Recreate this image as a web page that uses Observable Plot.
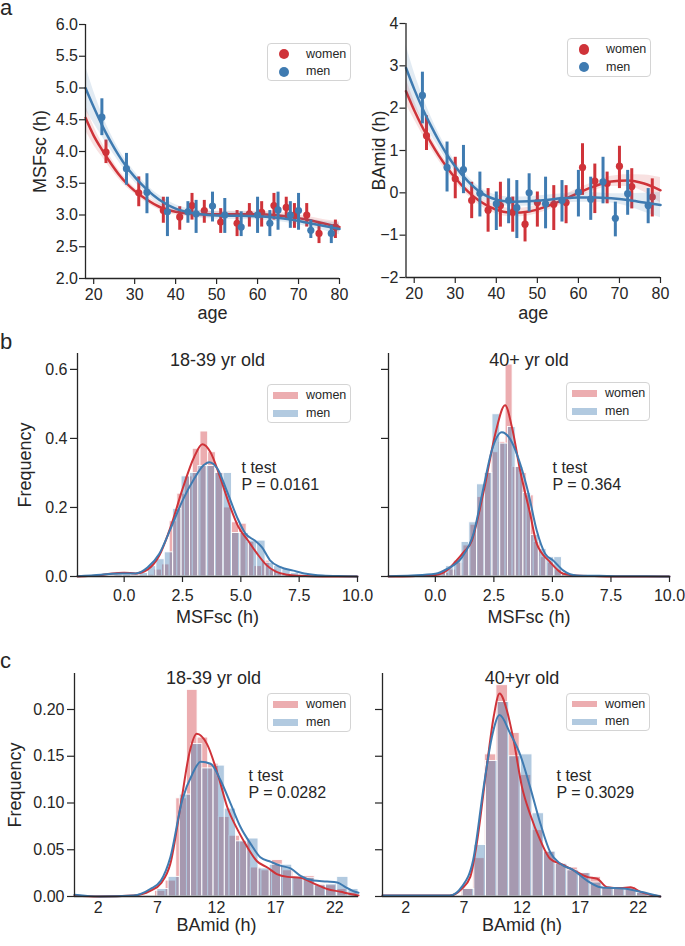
<!DOCTYPE html>
<html><head><meta charset="utf-8">
<script src="https://cdn.jsdelivr.net/npm/d3@7"></script>
<script src="https://cdn.jsdelivr.net/npm/@observablehq/plot@0.6"></script>
<style>
body{margin:0;background:#fff;}
#fig{position:relative;width:685px;height:946px;font-family:"Liberation Sans",Arial,Helvetica,sans-serif;color:#262626;overflow:hidden;background:#fff;}
.pan{position:absolute;}
.letter{position:absolute;left:0;font-size:22px;line-height:0.75;}
.leg{position:absolute;width:84px;height:38.5px;border:1px solid #d4d4d4;border-radius:4px;background:rgba(255,255,255,0.85);box-sizing:border-box;}
.leg .mk{position:absolute;}
.leg .lt{position:absolute;left:38px;font-size:12.5px;line-height:14px;height:14px;}
</style>
</head><body>
<div id="fig"></div>
<script>
// ---------- colours ----------
const RED = "#cf3339", BLUE = "#3f7bb1", INK = "#262626";
const FONT = '"Liberation Sans", Arial, Helvetica, sans-serif';

// ---------- panel a: fitted curves ----------
const fitAges = [18,20,22,24,26,28,30,33,36,40,44,48,52,56,60,64,68,72,76,80];
const msfFitWomen = [4.53,4.25,4.03,3.83,3.65,3.5,3.38,3.24,3.13,3.05,3.02,3.01,3.01,3.01,3.01,3.0,2.97,2.93,2.87,2.81];
const msfCiWomen  = [0.2,0.15,0.11,0.09,0.07,0.06,0.05,0.05,0.05,0.05,0.05,0.05,0.05,0.05,0.05,0.05,0.05,0.05,0.06,0.08];
const msfFitMen   = [5.0,4.7,4.42,4.17,3.95,3.76,3.6,3.4,3.24,3.1,3.03,3.0,2.99,2.99,2.98,2.96,2.93,2.88,2.83,2.78];
const msfCiMen    = [0.35,0.25,0.18,0.13,0.1,0.09,0.08,0.07,0.07,0.06,0.06,0.06,0.06,0.06,0.06,0.06,0.06,0.06,0.07,0.09];
const bamFitWomen = [2.4,1.95,1.55,1.2,0.88,0.6,0.35,0.04,-0.2,-0.4,-0.47,-0.44,-0.33,-0.18,0.0,0.16,0.27,0.29,0.22,0.06];
const bamCiWomen  = [0.3,0.22,0.17,0.14,0.12,0.11,0.1,0.1,0.1,0.1,0.1,0.1,0.1,0.1,0.1,0.1,0.12,0.14,0.2,0.3];
const bamFitMen   = [2.95,2.45,2.0,1.6,1.23,0.9,0.62,0.28,0.02,-0.16,-0.21,-0.2,-0.17,-0.13,-0.11,-0.11,-0.13,-0.17,-0.23,-0.29];
const bamCiMen    = [0.55,0.4,0.3,0.22,0.17,0.14,0.12,0.11,0.11,0.11,0.11,0.11,0.11,0.11,0.11,0.11,0.11,0.15,0.22,0.3];

// ---------- panel a: binned means with CI ----------
const msfAgeWomen  = [23,31,37,41,44,47,51,55,58,61,64,67,69,72,75,79];
const msfMeanWomen = [3.99,3.35,3.07,2.97,3.15,3.07,2.89,2.87,3.02,3.04,3.15,3.12,3.0,3.0,2.71,2.81];
const msfLoWomen   = [3.81,3.13,2.87,2.76,2.92,2.87,2.71,2.66,2.81,2.81,2.92,2.92,2.79,2.81,2.55,2.63];
const msfHiWomen   = [4.18,3.6,3.28,3.13,3.34,3.23,3.1,3.07,3.18,3.21,3.34,3.28,3.18,3.18,2.87,2.92];
const msfAgeMen    = [22,28,33,38,43,45,49,52,56,60,63,65,68,70,73,78];
const msfMeanMen   = [4.54,3.73,3.36,3.05,3.05,3.02,3.14,3.0,2.81,3.0,2.87,3.08,3.0,3.07,2.76,2.71];
const msfLoMen     = [4.25,3.47,3.02,2.66,2.87,2.71,2.89,2.71,2.66,2.71,2.66,2.76,2.79,2.76,2.63,2.55];
const msfHiMen     = [4.83,3.97,3.65,3.28,3.21,3.23,3.36,3.26,3.05,3.28,3.07,3.36,3.21,3.34,2.92,2.84];

const bamAgeWomen  = [23,30,34,38,41,44,47,50,54,57,61,64,67,70,73,78];
const bamMeanWomen = [1.35,0.33,-0.18,-0.41,-0.3,-0.46,-0.74,-0.23,-0.27,-0.23,0.6,0.28,0.22,0.63,0.15,-0.1];
const bamLoWomen   = [1.0,-0.14,-0.61,-0.93,-0.81,-0.93,-1.16,-0.81,-0.89,-0.73,-0.06,-0.49,-0.26,0.1,-0.38,-0.57];
const bamHiWomen   = [1.82,0.84,0.25,0.1,0.25,-0.1,-0.49,0.02,0.17,0.17,1.16,0.68,0.49,1.1,0.57,0.33];
const bamAgeMen    = [22,28,32,36,40,43,45,48,52,56,60,63,66,69,72,77];
const bamMeanMen   = [2.3,0.6,0.55,-0.01,-0.26,-0.18,-0.35,0.0,-0.26,-0.18,0.02,-0.15,0.26,-0.6,-0.02,-0.3];
const bamLoMen     = [1.63,0.02,-0.02,-0.57,-0.89,-0.73,-1.08,-0.45,-0.85,-0.69,-0.57,-0.65,-0.26,-1.04,-0.53,-0.73];
const bamHiMen     = [2.85,1.2,1.12,0.49,0.02,0.33,0.29,0.45,0.37,0.29,0.53,0.37,0.84,-0.22,0.53,0.1];

// ---------- panel b: MSFsc histograms (bin edges + normalised heights) and KDE ----------
const bYoungEdgesWomen = [-0.36,-0.03,0.30,0.63,0.96,1.29,1.62,1.95,2.28,2.61,2.94,3.27,3.60,3.93,4.26,4.59,4.92,5.25,5.58,5.91,6.24,6.57,6.90,7.23];
const bYoungHistWomen  = [0.012,0.01,0.01,0,0.005,0.02,0.035,0.16,0.24,0.29,0.37,0.42,0.36,0.3,0.2,0.157,0.153,0.10,0.03,0.046,0.02,0.01,0.005];
const bYoungEdgesMen   = [-0.42,-0.06,0.30,0.66,1.02,1.38,1.74,2.10,2.46,2.82,3.18,3.54,3.90,4.26,4.62,4.98,5.34,5.70,6.06,6.42,6.78,7.14,7.50,7.86];
const bYoungHistMen    = [0.005,0.005,0.003,0.01,0.03,0.05,0.07,0.196,0.29,0.3,0.32,0.32,0.30,0.3,0.126,0.126,0.104,0.104,0.04,0.03,0.022,0.01,0.005];
const bYoungKdeXWomen  = [-2,-1,-0.5,0,0.5,1.0,1.5,2.0,2.5,3.0,3.35,3.7,4.1,4.5,4.9,5.3,5.7,6.1,6.5,7.0,7.5,8.5,10];
const bYoungKdeYWomen  = [0.0,0.004,0.009,0.011,0.009,0.02,0.06,0.145,0.253,0.346,0.383,0.36,0.29,0.21,0.143,0.105,0.066,0.033,0.014,0.005,0.002,0.0,0.0];
const bYoungKdeXMen    = [-2,-1,-0.5,0,0.5,1.0,1.5,2.0,2.5,3.0,3.4,3.65,4.0,4.4,4.85,5.2,5.6,5.9,6.25,6.7,7.25,7.8,8.5,9.5,10];
const bYoungKdeYMen    = [0.001,0.005,0.008,0.009,0.009,0.026,0.065,0.14,0.22,0.283,0.322,0.331,0.312,0.248,0.17,0.124,0.104,0.085,0.047,0.027,0.017,0.008,0.003,0.001,0.0];

const bOldEdgesWomen = [0.0,0.3,0.6,0.9,1.2,1.5,1.8,2.1,2.4,2.7,3.0,3.3,3.6,3.9,4.2,4.5,4.8,5.1,5.4,5.7,6.0];
const bOldHistWomen  = [0.003,0.01,0.02,0.04,0.09,0.15,0.23,0.30,0.36,0.39,0.614,0.317,0.30,0.235,0.10,0.056,0.04,0.02,0.008,0.004];
const bOldEdgesMen   = [-0.2,0.13,0.46,0.79,1.12,1.45,1.78,2.11,2.44,2.77,3.10,3.43,3.76,4.09,4.42,4.75,5.08,5.41,5.74,6.07];
const bOldHistMen    = [0.005,0.01,0.03,0.046,0.1,0.157,0.267,0.30,0.47,0.385,0.433,0.317,0.242,0.12,0.08,0.056,0.056,0.008,0.004];
const bOldKdeXWomen  = [-2,-1,0,0.5,0.85,1.2,1.56,1.85,2.13,2.56,2.98,3.27,3.62,4.05,4.33,4.9,5.47,6.0,7,8,10];
const bOldKdeYWomen  = [0,0.001,0.004,0.018,0.042,0.07,0.104,0.18,0.268,0.413,0.496,0.433,0.307,0.181,0.095,0.042,0.008,0.003,0.001,0,0];
const bOldKdeXMen    = [-2,-1,0,0.5,1.14,1.63,2.06,2.41,2.84,3.27,3.62,3.98,4.33,4.69,5.04,5.47,6.04,7,8,9,10];
const bOldKdeYMen    = [0.001,0.003,0.008,0.022,0.056,0.124,0.259,0.365,0.418,0.389,0.327,0.24,0.133,0.066,0.046,0.017,0.003,0.002,0.001,0.001,0];

// ---------- panel c: BAmid histograms and KDE ----------
const cYoungEdgesWomen = [6.8,7.7,8.6,9.5,10.4,11.3,12.2,13.1,14.0,14.9,15.8,16.7,17.6,18.5,19.4,20.3,21.2,22.1,23.0,23.9];
const cYoungHistWomen  = [0.006,0.017,0.105,0.221,0.17,0.142,0.085,0.065,0.059,0.031,0.028,0.039,0.028,0.02,0.022,0.013,0.012,0.008,0.004];
const cYoungEdgesMen   = [7.0,7.95,8.9,9.85,10.8,11.75,12.7,13.65,14.6,15.55,16.5,17.45,18.4,19.35,20.3,21.25,22.2,23.15,24.0];
const cYoungHistMen    = [0.008,0.021,0.109,0.163,0.137,0.14,0.094,0.059,0.062,0.03,0.034,0.034,0.02,0.02,0.012,0.013,0.021,0.008];
const cYoungKdeXWomen  = [0,2,5,6.4,7.3,8.1,9.0,9.7,10.33,11.2,12.1,12.9,13.8,14.6,15.4,16.3,17.1,18.0,19.1,20.2,21.35,22.5,23.2,24];
const cYoungKdeYWomen  = [0.001,0.0,0.001,0.006,0.014,0.035,0.1,0.153,0.174,0.163,0.131,0.096,0.071,0.053,0.038,0.031,0.024,0.021,0.02,0.014,0.008,0.005,0.003,0.001];
const cYoungKdeXMen    = [0,2.2,5,6.4,7.3,8.1,9.1,9.96,10.66,11.5,12.35,13.2,14.04,14.9,15.7,16.6,17.4,18.26,19.1,20.2,21.35,22.2,22.9,23.5,24];
const cYoungKdeYMen    = [0.002,0.0,0.001,0.008,0.017,0.042,0.103,0.131,0.144,0.142,0.124,0.099,0.074,0.056,0.042,0.037,0.033,0.03,0.022,0.017,0.016,0.015,0.01,0.006,0.004];

const cOldEdgesWomen = [6.8,7.8,8.8,9.8,10.8,11.8,12.8,13.8,14.8,15.8,16.8,17.8,18.8,19.8,20.8,21.8,22.8,23.8];
const cOldHistWomen  = [0.009,0.041,0.152,0.226,0.175,0.13,0.071,0.048,0.035,0.031,0.025,0.021,0.009,0.008,0.01,0.005,0.002];
const cOldEdgesMen   = [6.9,7.9,8.9,9.9,10.9,11.9,12.9,13.9,14.9,15.9,16.9,17.9,18.9,19.9,20.9,21.9,22.9,23.9];
const cOldHistMen    = [0.008,0.055,0.145,0.208,0.15,0.152,0.089,0.048,0.035,0.028,0.025,0.015,0.009,0.008,0.007,0.004,0.002];
const cOldKdeXWomen  = [0,5.8,6.8,7.55,8.1,9.0,9.56,10.07,10.7,11.28,12.0,12.7,13.58,14.44,15.3,16.45,17.6,18.47,19.33,20.5,21.34,22.2,23.9];
const cOldKdeYWomen  = [0.001,0.001,0.008,0.021,0.056,0.142,0.192,0.217,0.199,0.167,0.117,0.088,0.06,0.04,0.035,0.028,0.021,0.019,0.01,0.009,0.01,0.005,0.0];
const cOldKdeXMen    = [0,5.8,6.8,7.8,8.7,9.4,10.07,11.0,11.86,12.7,13.58,14.44,15.3,16.45,17.6,18.75,19.9,21.05,22.2,23.9];
const cOldKdeYMen    = [0.001,0.001,0.01,0.039,0.117,0.17,0.194,0.174,0.151,0.117,0.078,0.047,0.035,0.028,0.017,0.01,0.009,0.008,0.005,0.0];

// ---------- texts / ticks ----------
const groupTitles = ["18-39 yr old", "40+ yr old", "40+yr old"];
const pValuesB = ["P = 0.0161", "P = 0.364"];
const pValuesC = ["P = 0.0282", "P = 0.3029"];
const legendLabels = ["women", "men"];
const ageTicks = [20,30,40,50,60,70,80];
const msfTicksA = [2.0,2.5,3.0,3.5,4.0,4.5,5.0,5.5,6.0];
const bamTicksA = [-2,-1,0,1,2,3,4];
const msfTicksB = [0.0,2.5,5.0,7.5,10.0];
const freqTicksB = [0.0,0.2,0.4,0.6];
const bamTicksC = [2,7,12,17,22];
const freqTicksC = [0.00,0.05,0.10,0.15,0.20];

// ---------- helpers ----------
const fig = document.getElementById("fig");
const zipFit = (ages, fit, ci) => ages.map((a, i) => ({age: a, fit: fit[i], ci: ci[i]}));
const zipPts = (ages, m, lo, hi) => ages.map((a, i) => ({age: a, mean: m[i], lo: lo[i], hi: hi[i]}));
const zipBins = (edges, h) => h.map((v, i) => ({x1: edges[i], x2: edges[i + 1], h: v}));
const zipKde = (xs, ys) => xs.map((x, i) => ({x, y: ys[i]}));

function place(node, left, top, w) {
  const d = document.createElement("div");
  d.className = "pan";
  d.style.left = left + "px"; d.style.top = top + "px"; d.style.width = w + "px";
  d.appendChild(node);
  fig.appendChild(d);
}
const baseStyle = {fontFamily: FONT, fontSize: "16px", color: INK, background: "transparent", overflow: "visible"};
const yLabelMark = (label, dx) => Plot.text([label], {text: d => d, frameAnchor: "left", dx, rotate: -90, textAnchor: "middle", fontSize: 18, lineAnchor: "middle"});
const xLabelMark = (label, dy) => Plot.text([label], {text: d => d, frameAnchor: "bottom", dy, textAnchor: "middle", fontSize: 18, lineAnchor: "middle"});

function panelA(o) {
  const fw = zipFit(fitAges, o.fitW, o.ciW), fm = zipFit(fitAges, o.fitM, o.ciM);
  const pw = zipPts(o.ptsW[0], o.ptsW[1], o.ptsW[2], o.ptsW[3]);
  const pm = zipPts(o.ptsM[0], o.ptsM[1], o.ptsM[2], o.ptsM[3]);
  const series = (fit, pts, c) => [
    Plot.areaY(fit, {x: "age", y1: d => d.fit - d.ci, y2: d => d.fit + d.ci, fill: c, fillOpacity: 0.15, curve: "monotone-x"}),
    Plot.ruleX(pts, {x: "age", y1: "lo", y2: "hi", stroke: c, strokeWidth: 3}),
    Plot.dot(pts, {x: "age", y: "mean", r: 3.6, fill: c}),
    Plot.line(fit, {x: "age", y: "fit", stroke: c, strokeWidth: 2.5, curve: "monotone-x"})
  ];
  const p = Plot.plot({
    width: o.w, height: o.h,
    marginLeft: o.ml, marginRight: o.mr, marginTop: o.mt, marginBottom: o.mb,
    style: baseStyle,
    x: {domain: [18, 80], label: null},
    y: {domain: o.yDomain, label: null},
    marks: [
      ...series(fw, pw, RED),
      ...series(fm, pm, BLUE),
      Plot.ruleY([o.yDomain[0]], {stroke: INK, strokeWidth: 1.3}),
      Plot.ruleX([18], {stroke: INK, strokeWidth: 1.3}),
      Plot.axisX({ticks: ageTicks, tickFormat: d3.format("d"), tickSize: 6, tickPadding: 4, strokeWidth: 1.2, label: null}),
      Plot.axisY({ticks: o.yTicks, tickFormat: o.yFmt, tickSize: 6, tickPadding: 1.5, strokeWidth: 1.2, label: null}),
      xLabelMark("age", o.xLabDy),
      yLabelMark(o.yLabel, o.yLabDx)
    ]
  });
  place(p, o.left, o.top, o.w);
}

function panelHist(o) {
  const marks = [
    Plot.rectY(zipBins(o.wEdges, o.wH), {x1: "x1", x2: "x2", y: "h", fill: RED, fillOpacity: 0.4, stroke: "white", strokeWidth: 0.9}),
    Plot.rectY(zipBins(o.mEdges, o.mH), {x1: "x1", x2: "x2", y: "h", fill: BLUE, fillOpacity: 0.4, stroke: "white", strokeWidth: 0.9}),
    Plot.line(zipKde(o.wKx, o.wKy), {x: "x", y: "y", stroke: RED, strokeWidth: 2, curve: "monotone-x"}),
    Plot.line(zipKde(o.mKx, o.mKy), {x: "x", y: "y", stroke: BLUE, strokeWidth: 2, curve: "monotone-x"}),
    Plot.ruleY([0], {stroke: INK, strokeWidth: 1.3}),
    Plot.ruleX([o.xDomain[0]], {stroke: INK, strokeWidth: 1.3}),
    Plot.axisX({ticks: o.xTicks, tickFormat: o.xFmt, tickSize: o.xTickSize, tickPadding: o.xTickPad, strokeWidth: 1.2, label: null}),
    Plot.axisY({ticks: o.yTicks, tickFormat: o.showY ? o.yFmt : () => "", tickSize: 7, tickPadding: 3, strokeWidth: 1.2, label: null}),
    Plot.text([o.title], {text: d => d, frameAnchor: "top", dx: o.titleDx || 0, dy: o.titleDy, textAnchor: "middle", fontSize: 18, lineAnchor: "middle"}),
    Plot.text(["t test"], {text: d => d, frameAnchor: "top-left", dx: o.tDx, dy: o.tDy, textAnchor: "start", fontSize: 16, lineAnchor: "middle"}),
    Plot.text([o.p], {text: d => d, frameAnchor: "top-left", dx: o.tDx, dy: o.tDy + 17.5, textAnchor: "start", fontSize: 16, lineAnchor: "middle"}),
    xLabelMark(o.xLabel, o.xLabDy)
  ];
  if (o.yLabel) marks.push(yLabelMark(o.yLabel, o.yLabDx));
  const p = Plot.plot({
    width: o.w, height: o.h,
    marginLeft: o.ml, marginRight: o.mr, marginTop: o.mt, marginBottom: o.mb,
    style: baseStyle,
    x: {domain: o.xDomain, label: null},
    y: {domain: o.yDomain, label: null},
    marks
  });
  place(p, o.left, o.top, o.w);
}

function legend(left, top, kind) {
  const box = document.createElement("div");
  box.className = "leg";
  box.style.left = left + "px"; box.style.top = top + "px";
  [RED, BLUE].forEach((c, i) => {
    const cy = i === 0 ? 10.5 : 28.3;
    const mk = document.createElement("div");
    mk.className = "mk";
    if (kind === "dot") {
      Object.assign(mk.style, {left: "10.5px", top: (cy - 5.2) + "px", width: "10.4px", height: "10.4px", borderRadius: "50%", background: c});
    } else {
      Object.assign(mk.style, {left: "4.5px", top: (cy - 3.3) + "px", width: "25px", height: "6.6px", background: c, opacity: 0.4});
    }
    box.appendChild(mk);
    const t = document.createElement("div");
    t.className = "lt";
    t.style.top = (cy - 7.5) + "px";
    t.textContent = legendLabels[i];
    box.appendChild(t);
  });
  fig.appendChild(box);
}
function letter(ch, top) {
  const d = document.createElement("div");
  d.className = "letter"; d.style.top = top + "px"; d.textContent = ch;
  fig.appendChild(d);
}

// ---------- panel a ----------
panelA({left: 0, top: 0, w: 345, h: 330, ml: 85, mr: 6, mt: 24, mb: 52,
  yDomain: [2, 6], yTicks: msfTicksA, yFmt: d3.format(".1f"), yLabel: "MSFsc (h)", yLabDx: -45, xLabDy: 35,
  fitW: msfFitWomen, ciW: msfCiWomen, fitM: msfFitMen, ciM: msfCiMen,
  ptsW: [msfAgeWomen, msfMeanWomen, msfLoWomen, msfHiWomen],
  ptsM: [msfAgeMen, msfMeanMen, msfLoMen, msfHiMen]});
panelA({left: 340, top: 0, w: 345, h: 330, ml: 65.5, mr: 25, mt: 23, mb: 53,
  yDomain: [-2, 4], yTicks: bamTicksA, yFmt: d3.format("d"), yLabel: "BAmid (h)", yLabDx: -26.5, xLabDy: 36,
  fitW: bamFitWomen, ciW: bamCiWomen, fitM: bamFitMen, ciM: bamCiMen,
  ptsW: [bamAgeWomen, bamMeanWomen, bamLoWomen, bamHiWomen],
  ptsM: [bamAgeMen, bamMeanMen, bamLoMen, bamHiMen]});

// ---------- panel b ----------
const bCommon = {top: 330, h: 290, mt: 23, mb: 44, xDomain: [-2, 10], yDomain: [0, 0.646],
  xTicks: msfTicksB, xFmt: d3.format(".1f"), xTickSize: 6, xTickPad: 7,
  yTicks: freqTicksB, yFmt: d3.format(".1f"), titleDy: 7, tDx: 164, tDy: 114, xLabel: "MSFsc (h)", xLabDy: 41};
panelHist({...bCommon, left: 0, w: 370, ml: 77, mr: 13, showY: true, yLabel: "Frequency", yLabDx: -52,
  title: groupTitles[0], p: pValuesB[0],
  wEdges: bYoungEdgesWomen, wH: bYoungHistWomen, mEdges: bYoungEdgesMen, mH: bYoungHistMen,
  wKx: bYoungKdeXWomen, wKy: bYoungKdeYWomen, mKx: bYoungKdeXMen, mKy: bYoungKdeYMen});
panelHist({...bCommon, left: 340, w: 345, ml: 48, mr: 16, showY: false,
  title: groupTitles[1], p: pValuesB[1],
  wEdges: bOldEdgesWomen, wH: bOldHistWomen, mEdges: bOldEdgesMen, mH: bOldHistMen,
  wKx: bOldKdeXWomen, wKy: bOldKdeYWomen, mKx: bOldKdeXMen, mKy: bOldKdeYMen});

// ---------- panel c ----------
const cCommon = {top: 630, h: 316, mt: 43, mb: 50, xDomain: [0, 24], yDomain: [0, 0.2385],
  xTicks: bamTicksC, xFmt: d3.format("d"), xTickSize: 0, xTickPad: 5,
  yTicks: freqTicksC, yFmt: d3.format(".2f"), titleDy: 5, tDx: 174, tDy: 102, xLabel: "BAmid (h)", xLabDy: 29};
panelHist({...cCommon, left: 0, w: 370, ml: 74, mr: 12, showY: true, yLabel: "Frequency", yLabDx: -59,
  title: groupTitles[0], titleDx: -3, p: pValuesC[0],
  wEdges: cYoungEdgesWomen, wH: cYoungHistWomen, mEdges: cYoungEdgesMen, mH: cYoungHistMen,
  wKx: cYoungKdeXWomen, wKy: cYoungKdeYWomen, mKx: cYoungKdeXMen, mKy: cYoungKdeYMen});
panelHist({...cCommon, left: 340, w: 345, ml: 42, mr: 24, showY: false,
  title: groupTitles[2], p: pValuesC[1],
  wEdges: cOldEdgesWomen, wH: cOldHistWomen, mEdges: cOldEdgesMen, mH: cOldHistMen,
  wKx: cOldKdeXWomen, wKy: cOldKdeYWomen, mKx: cOldKdeXMen, mKy: cOldKdeYMen});

// ---------- legends & panel letters ----------
legend(267, 42.5, "dot");
legend(567, 38, "dot");
legend(267, 384, "patch");
legend(566, 382, "patch");
legend(267, 693, "patch");
legend(566, 692.5, "patch");
letter("a", 0);
letter("b", 334);
letter("c", 653);
</script>
</body></html>
